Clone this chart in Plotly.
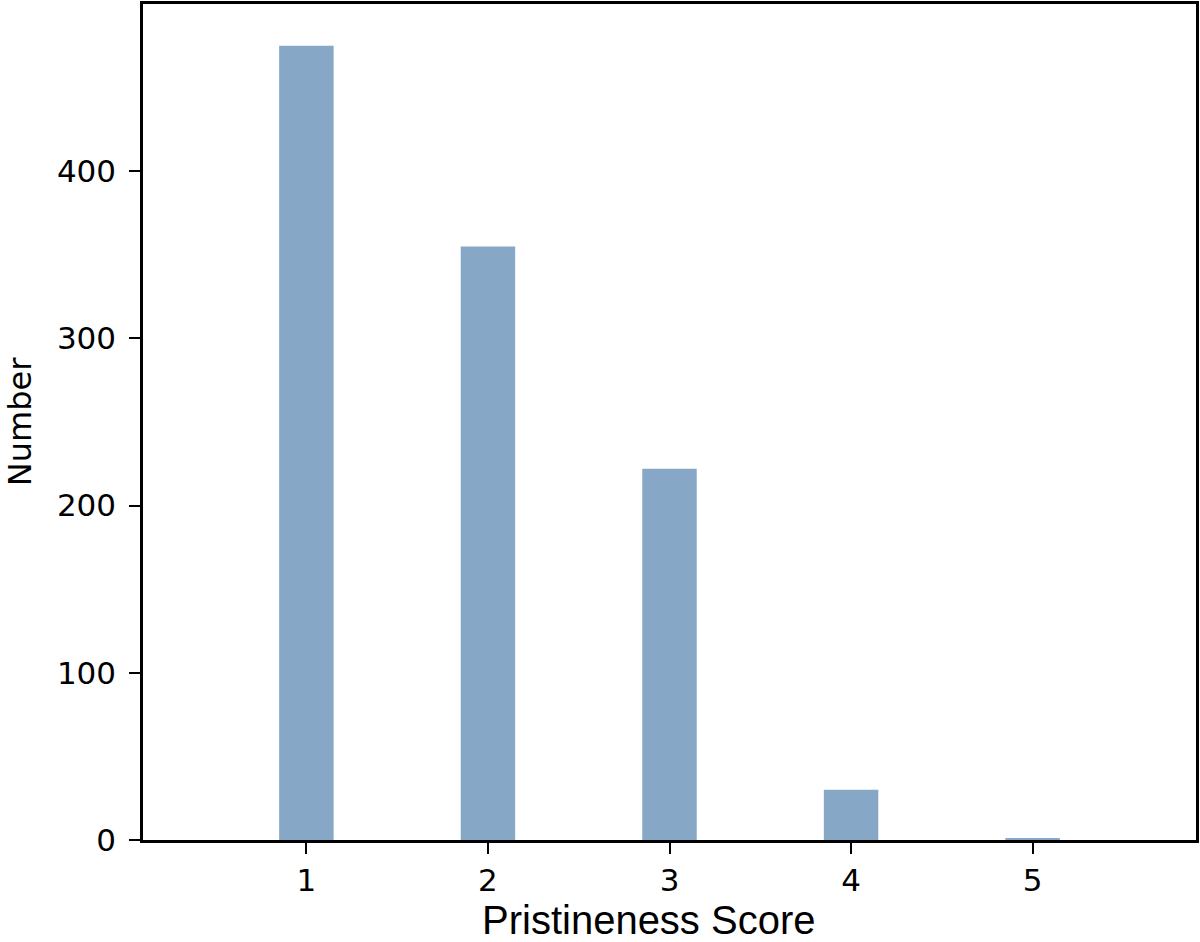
import plotly.graph_objects as go

scores = [1, 2, 3, 4, 5]
counts = [475, 355, 222, 30, 1]
tick_vals_y = [0, 100, 200, 300, 400]

fig = go.Figure()
fig.add_trace(go.Bar(
    x=scores, y=counts, width=0.3,
    marker=dict(color="#87A7C6", line=dict(width=0)),
))

fig.update_layout(
    width=1200, height=942,
    margin=dict(l=143, r=2, t=1, b=102),
    paper_bgcolor="white", plot_bgcolor="white",
    showlegend=False,
    font=dict(family="DejaVu Sans", size=31, color="black"),
    xaxis=dict(
        range=[0.1, 5.9], tickvals=scores, ticktext=[str(s) for s in scores],
        showline=True, mirror=True, linecolor="black", linewidth=2.5,
        ticks="outside", ticklen=11, tickwidth=2, tickcolor="black",
        showgrid=False, zeroline=False, ticklabelstandoff=0,
    ),
    yaxis=dict(
        range=[0, 500], tickvals=tick_vals_y,
        showline=True, mirror=True, linecolor="black", linewidth=2.5,
        ticks="outside", ticklen=11, tickwidth=2, tickcolor="black",
        showgrid=False, zeroline=False, ticklabelstandoff=7,
    ),
    annotations=[
        dict(text="Pristineness Score", xref="paper", yref="paper",
             x=0.48, y=-0.0955, xanchor="center", yanchor="middle",
             showarrow=False, font=dict(family="Liberation Sans", size=40, color="black")),
        dict(text="Number", xref="paper", yref="paper",
             x=-0.1166, y=0.5, xanchor="center", yanchor="middle", textangle=-90,
             showarrow=False, font=dict(family="DejaVu Sans", size=32, color="black")),
    ],
)

fig.write_html(
    "out.html",
    config={"displayModeBar": False},
    post_script="document.body.style.margin='0';document.body.style.overflow='hidden';",
)
